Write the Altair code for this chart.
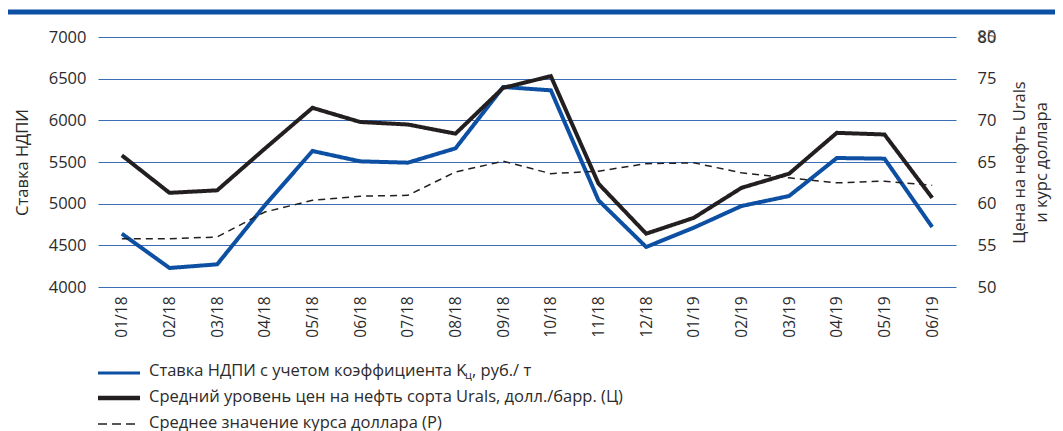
import altair as alt
import pandas as pd

months = ["01/18", "02/18", "03/18", "04/18", "05/18", "06/18", "07/18", "08/18", "09/18",
          "10/18", "11/18", "12/18", "01/19", "02/19", "03/19", "04/19", "05/19", "06/19"]
ndpi = [4640, 4228, 4272, 4980, 5632, 5508, 5492, 5664, 6400, 6360,
        5040, 4480, 4712, 4972, 5092, 5548, 5540, 4720]
urals = [65.8, 61.3, 61.6, 66.6, 71.5, 69.8, 69.5, 68.4, 73.9, 75.3,
         62.4, 56.4, 58.3, 61.9, 63.6, 68.5, 68.3, 60.7]
usd = [55.8, 55.8, 56.0, 59.0, 60.4, 60.9, 61.0, 63.8, 65.1, 63.6,
       63.9, 64.8, 64.9, 63.7, 63.1, 62.5, 62.7, 62.2]

s1 = "Ставка НДПИ с учетом коэффициента Kц, руб./ т"
s2 = "Средний уровень цен на нефть сорта Urals, долл./барр. (Ц)"
s3 = "Среднее значение курса доллара (Р)"
series = [s1, s2, s3]
s1_main = "Ставка НДПИ с учетом коэффициента K"
s1_sub = "ц"
s1_tail = ", руб./ т"

FONT = "Open Sans"
BLUE = "#0c4fa3"
BLACK = "#231f20"
GRID = "#3a6db5"
TXT = "#2b2b2b"

rows = []
for name, vals in [(s1, ndpi), (s2, urals), (s3, usd)]:
    for m, v in zip(months, vals):
        rows.append({"month": m, "series": name, "value": v})
df = pd.DataFrame(rows)

x = alt.X("month:N", sort=months, title=None,
          scale=alt.Scale(type="point", padding=0.5),
          axis=alt.Axis(labelAngle=270, labelPadding=9, ticks=False, domain=False,
                        labelFontSize=15.5, labelColor=TXT, labelFont=FONT))

color = alt.Color("series:N", legend=None,
                  scale=alt.Scale(domain=series, range=[BLUE, BLACK, BLACK]))
dash = alt.StrokeDash("series:N", legend=None,
                      scale=alt.Scale(domain=series, range=[[1, 0], [1, 0], [7, 5]]))

left = alt.Chart(df).transform_filter(alt.datum.series == s1).mark_line(strokeWidth=4).encode(
    x=x,
    y=alt.Y("value:Q", title="Ставка НДПИ",
            scale=alt.Scale(domain=[4000, 7000], zero=False, nice=False),
            axis=alt.Axis(values=[4000, 4500, 5000, 5500, 6000, 6500, 7000], format="d",
                          ticks=False, domain=False,
                          grid=True, gridColor=GRID, gridWidth=1, labelPadding=12,
                          labelFontSize=16.5, labelFont=FONT, labelColor=TXT,
                          titleFontSize=16.5, titleFont=FONT, titleFontWeight="normal",
                          titleColor=TXT, titlePadding=18)),
    color=color,
    strokeDash=dash,
)

right = alt.Chart(df).transform_filter(alt.datum.series != s1).mark_line().encode(
    x=x,
    y=alt.Y("value:Q", title=["Цена на нефть Urals", "и курс доллара"],
            scale=alt.Scale(domain=[50, 80], zero=False, nice=False),
            axis=alt.Axis(orient="right", values=[50, 55, 60, 65, 70, 75, 80], format="d",
                          ticks=False, domain=False,
                          grid=False, labelPadding=21,
                          labelFontSize=16.5, labelFont=FONT, labelColor=TXT,
                          titleFontSize=16.5, titleFont=FONT, titleFontWeight="normal",
                          titleColor=TXT, titleAngle=270, titlePadding=10, titleLineHeight=22)),
    color=color,
    strokeDash=dash,
    strokeWidth=alt.StrokeWidth("series:N", scale=alt.Scale(domain=[s2, s3], range=[4, 1.5]), legend=None),
)

one = alt.Data(values=[{"a": 1}])

topbar = alt.Chart(one).mark_rule(color=BLUE, strokeWidth=5).encode(
    x=alt.value(-92), x2=alt.value(960), y=alt.value(-25)
)

# duplicated top label as in the reference ("80" overprinted with "85")
over = alt.Chart(one).mark_text(align="left", baseline="middle", fontSize=16.5, font=FONT,
                                color=TXT, opacity=0.6).encode(
    x=alt.value(858 + 21), y=alt.value(0), text=alt.value("85")
)

# manual legend
leg_layers = []
leg_rows = [(336, BLUE, 3, [1, 0]), (361, BLACK, 4.5, [1, 0]), (387, BLACK, 1.6, [9, 5])]
for (yy, col, sw, dsh) in leg_rows:
    leg_layers.append(alt.Chart(one).mark_rule(color=col, strokeWidth=sw, strokeDash=dsh).encode(
        x=alt.value(0), x2=alt.value(42), y=alt.value(yy)))

def txt(s, xx, yy, size=16.5):
    return alt.Chart(one).mark_text(align="left", baseline="middle", fontSize=size, font=FONT,
                                    color=TXT).encode(x=alt.value(xx), y=alt.value(yy), text=alt.value(s))

leg_layers.append(txt(s1_main, 51, 334))
leg_layers.append(txt(s1_sub, 367, 339, 11))
leg_layers.append(txt(s1_tail, 374, 334))
leg_layers.append(txt(s2, 51, 360))
leg_layers.append(txt(s3, 51, 386))

chart = alt.layer(left, right, topbar, over, *leg_layers).resolve_scale(
    y="independent", color="independent", strokeDash="independent"
).properties(
    width=858, height=250,
    autosize=alt.AutoSizeParams(type="none"),
    padding={"left": 90, "top": 29, "right": 99, "bottom": 160},
).configure_view(stroke=None)

chart.save("out.html", embed_options={"renderer": "svg", "actions": False})
